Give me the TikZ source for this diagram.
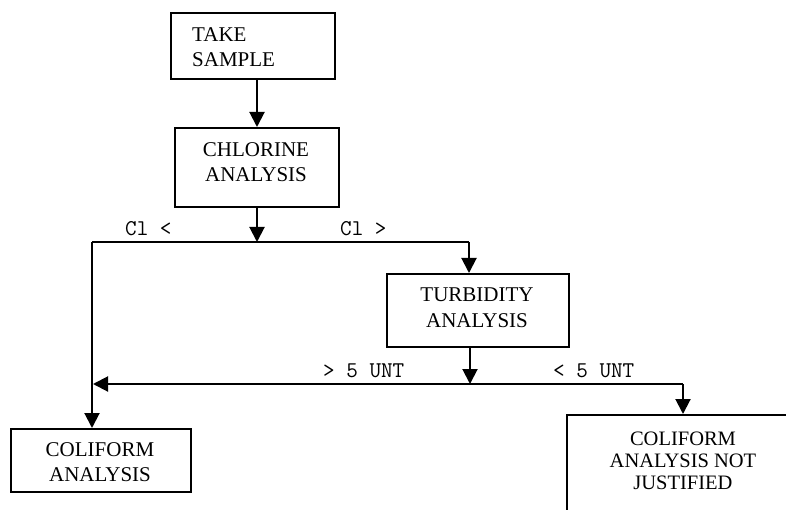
\documentclass[tikz,border=0pt]{standalone}
\usepackage{fontspec}
\setmainfont{Liberation Serif}
\usetikzlibrary{arrows.meta}
\begin{document}
\begin{tikzpicture}[x=1pt,y=-1pt,
  box/.style={draw,line width=2pt,inner sep=0pt},
  txt/.style={font=\fontsize{21}{25}\selectfont,align=center,inner sep=0pt},
  lbl/.style={font=\ttfamily\fontsize{22.5}{26}\selectfont,inner sep=0pt,anchor=base west},
  arr/.style={line width=2pt,-{Triangle[width=15pt,length=15pt]}},
  ln/.style={line width=2pt}]
\useasboundingbox (0,0) rectangle (786,510);
\clip (0,0) rectangle (786,510);
% boxes
\node[box,minimum width=164pt,minimum height=66pt] (take) at (253,46) {};
\node[box,minimum width=164pt,minimum height=79pt] (chl) at (257,167.5) {};
\node[box,minimum width=182pt,minimum height=73pt] (turb) at (478,310.5) {};
\node[box,minimum width=180pt,minimum height=63pt] (coli) at (101,460.5) {};
\node[box,minimum width=300pt,minimum height=200pt] (notj) at (717,515) {};
% texts
\node[txt,anchor=west,align=left] (taket) at (192,47) {TAKE\\SAMPLE};
\node[txt] (chlt) at (256,162) {CHLORINE\\ANALYSIS};
\node[txt,font=\fontsize{21}{26}\selectfont] (turbt) at (477,308) {TURBIDITY\\ANALYSIS};
\node[txt] (colit) at (100,462.5) {COLIFORM\\ANALYSIS};
\node[txt,font=\fontsize{20.5}{22}\selectfont] (notjt) at (683,460.5) {COLIFORM\\ANALYSIS NOT\\JUSTIFIED};
% junction points
\coordinate (j1) at (257,242);
\coordinate (l1) at (92,242);
\coordinate (r1) at (469,242);
\coordinate (j2) at (470,384);
\coordinate (l2) at (93,384);
\coordinate (r2) at (683,384);
% connectors
\draw[arr] (take.south -| chl.north) -- (chl.north);
\draw[arr] (chl.south) -- (j1);
\draw[ln] (l1) -- (r1);
\draw[arr] (r1) -- (r1 |- turb.north);
\draw[arr] (l1) -- (l1 |- coli.north);
\draw[arr] (turb.south -| j2) -- (j2);
\draw[arr] (r2) -- (l2);
\draw[arr] (r2) -- (r2 |- notj.north);
% labels
\node[lbl] (cllt) at (125,236) {Cl <};
\node[lbl] (clgt) at (340,236) {Cl >};
\node[lbl] (gt5) at (323,377) {> 5 UNT};
\node[lbl] (lt5) at (553,377) {< 5 UNT};
\end{tikzpicture}
\end{document}
